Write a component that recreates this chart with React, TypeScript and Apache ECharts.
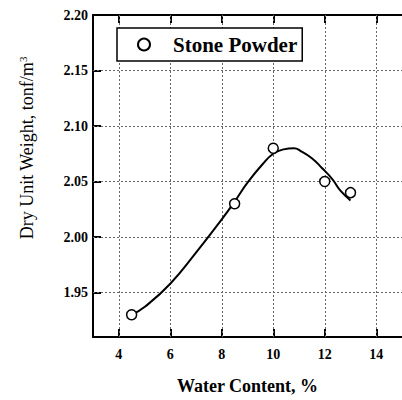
import React, { useEffect, useRef } from "react";
import * as echarts from "echarts";

const pointX = [4.5, 8.5, 10, 12, 13];
const pointY = [1.93, 2.03, 2.08, 2.05, 2.04];
const curveX = [4.5, 5, 6, 7, 8, 8.5, 9, 9.6, 10, 10.4, 10.8, 11.1, 11.5, 11.9, 12.3, 12.6, 13.0];
const curveY = [1.93, 1.937, 1.958, 1.986, 2.016, 2.032, 2.049, 2.066, 2.075, 2.079, 2.08, 2.077, 2.071, 2.062, 2.052, 2.042, 2.033];
const xTicks = [4, 6, 8, 10, 12, 14];
const yTicks = [1.95, 2.0, 2.05, 2.1, 2.15, 2.2];
const xGrid = [4, 6, 8, 10, 12, 14];
const yGrid = [1.95, 2.0, 2.05, 2.1, 2.15];
const seriesName = "Stone Powder";

const FONT = "Liberation Serif";

export default function App() {
  const ref = useRef<HTMLDivElement>(null);
  useEffect(() => {
    document.body.style.margin = "0";
    const chart = echarts.init(ref.current!, null, { renderer: "svg" });
    const gridLine = { type: [2, 2] as any, color: "#666", width: 1 };
    chart.setOption({
      animation: false,
      backgroundColor: "#fff",
      textStyle: { fontFamily: FONT },
      grid: { left: 93, top: 15, width: 318, height: 324 },
      legend: {
        data: [seriesName],
        left: 117,
        top: 28,
        orient: "horizontal",
        padding: [6, 5, 6, 20],
        itemWidth: 12,
        itemHeight: 12,
        borderColor: "#000",
        borderWidth: 1.5,
        backgroundColor: "#fff",
        textStyle: { fontFamily: FONT, fontWeight: "bold", fontSize: 21, color: "#000", padding: [0, 0, 0, 18] },
      },
      xAxis: [
        {
          type: "value",
          position: "bottom",
          min: 3,
          max: 15,
          axisLine: { show: true, lineStyle: { color: "#000", width: 2 } },
          axisTick: { show: true, inside: true, length: 8, lineStyle: { color: "#000", width: 2 }, customValues: xTicks },
          axisLabel: { customValues: xTicks, fontFamily: FONT, fontWeight: "bold", fontSize: 14, color: "#000", margin: 10 },
          splitLine: { show: false },
          name: "Water Content, %",
          nameLocation: "middle",
          nameGap: 40,
          nameTextStyle: { fontFamily: FONT, fontWeight: "bold", fontSize: 18, color: "#000" },
        },
        {
          type: "value",
          position: "top",
          min: 3,
          max: 15,
          axisLine: { show: true, lineStyle: { color: "#000", width: 2 } },
          axisTick: { show: true, inside: true, length: 8, lineStyle: { color: "#000", width: 2 }, customValues: xTicks },
          axisLabel: { show: false },
          splitLine: { show: false },
        },
      ],
      yAxis: {
        type: "value",
        min: 1.91,
        max: 2.2,
        axisLine: { show: true, lineStyle: { color: "#000", width: 2 } },
        axisTick: { show: true, inside: true, length: 8, lineStyle: { color: "#000", width: 2 }, customValues: yTicks },
        axisLabel: {
          customValues: yTicks,
          formatter: (v: number) => v.toFixed(2),
          fontFamily: FONT,
          fontWeight: "bold",
          fontSize: 14,
          color: "#000",
          margin: 5,
        },
        splitLine: { show: false },
      },
      graphic: [
        {
          type: "text",
          x: 27,
          y: 148,
          rotation: Math.PI / 2,
          style: {
            text: "{a|Dry Unit Weight, tonf/m}{s|3}",
            rich: {
              a: { fontFamily: FONT, fontSize: 18, fill: "#000" },
              s: { fontFamily: FONT, fontSize: 11, fill: "#000", verticalAlign: "top", padding: [0, 0, 8, 0] },
            },
            align: "center",
            verticalAlign: "middle",
          },
        },
      ],
      series: [
        {
          type: "line",
          name: "fit",
          data: curveX.map((x, i) => [x, curveY[i]]),
          smooth: true,
          showSymbol: false,
          lineStyle: { color: "#000", width: 2 },
          z: 3,
          markLine: {
            silent: true,
            symbol: "none",
            label: { show: false },
            lineStyle: gridLine,
            data: [...xGrid.map((v) => ({ xAxis: v })), ...yGrid.map((v) => ({ yAxis: v }))],
            z: 1,
          },
        },
        {
          type: "scatter",
          name: seriesName,
          data: pointX.map((x, i) => [x, pointY[i]]),
          symbol: "circle",
          symbolSize: 10,
          itemStyle: { color: "#fff", borderColor: "#000", borderWidth: 1.5, opacity: 1 },
          z: 5,
        },
      ],
    });
    return () => chart.dispose();
  }, []);
  return <div ref={ref} style={{ width: 402, height: 400 }} />;
}
